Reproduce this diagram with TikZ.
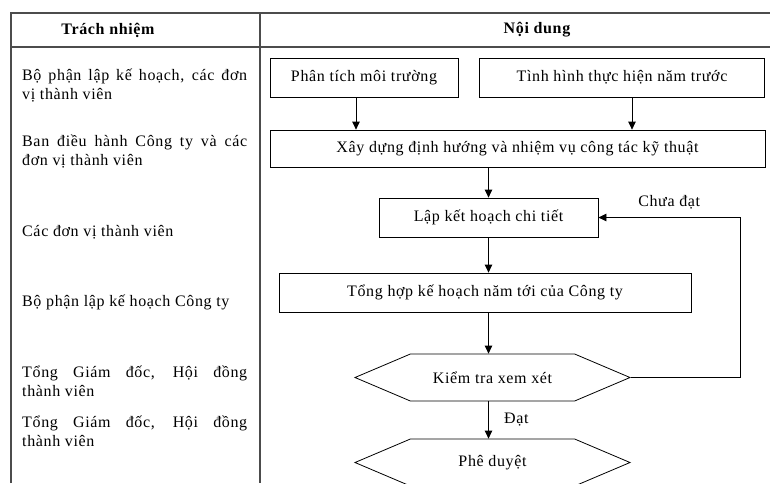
\documentclass[tikz,border=0pt]{standalone}
\usepackage{fontspec}
\setmainfont{Liberation Serif}[LetterSpace=4]
\usetikzlibrary{arrows.meta,shapes.symbols}

\tikzset{
  tableline/.style={line width=1.3pt, black!70},
  box/.style={draw, line width=0.8pt, minimum height=39pt, inner sep=0pt},
  hexa/.style={draw, line width=0.8pt, shape=signal, signal to=west and east,
    signal pointer angle=46, minimum width=275pt, minimum height=47pt, inner sep=0pt},
  arr/.style={-{Triangle[length=8pt,width=7.5pt]}, line width=0.8pt},
  who/.style={anchor=west, text width=225pt, align=justify, inner sep=0pt}
}

\begin{document}
\begin{tikzpicture}[x=1pt,y=-1pt,font=\fontsize{16}{19}\selectfont]
  \useasboundingbox (0,0) rectangle (770,483);
  % table frame
  \draw[tableline] (11,483) -- (11,13) -- (770,13);
  \draw[tableline] (11,47) -- (770,47);
  \draw[tableline] (260,13) -- (260,483);
  % header row
  \node[font=\fontsize{16}{19}\selectfont\bfseries] (hwho) at (108,30) {Trách nhiệm};
  \node[font=\fontsize{16}{19}\selectfont\bfseries] (hwhat) at (537,30) {Nội dung};
  % left column: who is in charge
  \foreach \y/\txt [count=\i] in {
      86/{Bộ phận lập kế hoạch, các đơn\linebreak vị thành viên},
      152/{Ban điều hành Công ty và các\linebreak đơn vị thành viên},
      232/{Các đơn vị thành viên},
      302/{Bộ phận lập kế hoạch Công ty},
      381/{Tổng Giám đốc, Hội đồng\linebreak thành viên},
      431/{Tổng Giám đốc, Hội đồng\linebreak thành viên}}{
    \node[who] (r\i) at (22,\y) {\txt};
  }
  % flow boxes
  \node[box, minimum width=188pt] (phantich) at (364,77.5) {Phân tích môi trường};
  \node[box, minimum width=285pt] (tinhhinh) at (622,77.5) {Tình hình thực hiện năm trước};
  \node[box, minimum width=495pt, minimum height=37pt] (xaydung) at (517.5,148.5)
    {Xây dựng định hướng và nhiệm vụ công tác kỹ thuật};
  \node[box, minimum width=219pt] (lapkh) at (488.5,217.5) {Lập kết hoạch chi tiết};
  \node[box, minimum width=412pt] (tonghop) at (485,292.5) {Tổng hợp kế hoạch năm tới của Công ty};
  % decisions
  \node[hexa] (kiemtra) at (492.5,377.5) {Kiểm tra xem xét};
  \node[hexa] (pheduyet) at (492.5,462.5) {Phê duyệt};
  \coordinate (back) at (740,217.5);
  % arrows
  \draw[arr] ([xshift=-8pt]phantich.south) -- ([xshift=-8pt]phantich.south |- xaydung.north);
  \draw[arr] ([xshift=10pt]tinhhinh.south) -- ([xshift=10pt]tinhhinh.south |- xaydung.north);
  \draw[arr] (xaydung.south -| lapkh.north) -- (lapkh.north);
  \draw[arr] (lapkh.south) -- (lapkh.south |- tonghop.north);
  \draw[arr] (tonghop.south -| lapkh.south) -- (lapkh.south |- kiemtra.north);
  \draw[arr] (kiemtra.south -| lapkh.south) -- node[right=12pt] (dat) {Đạt}
    (lapkh.south |- pheduyet.north);
  % loop back when not passed
  \draw[arr] (kiemtra.east) -| (back) -- node[above=5pt] (chuadat) {Chưa đạt} (lapkh.east);
\end{tikzpicture}
\end{document}
